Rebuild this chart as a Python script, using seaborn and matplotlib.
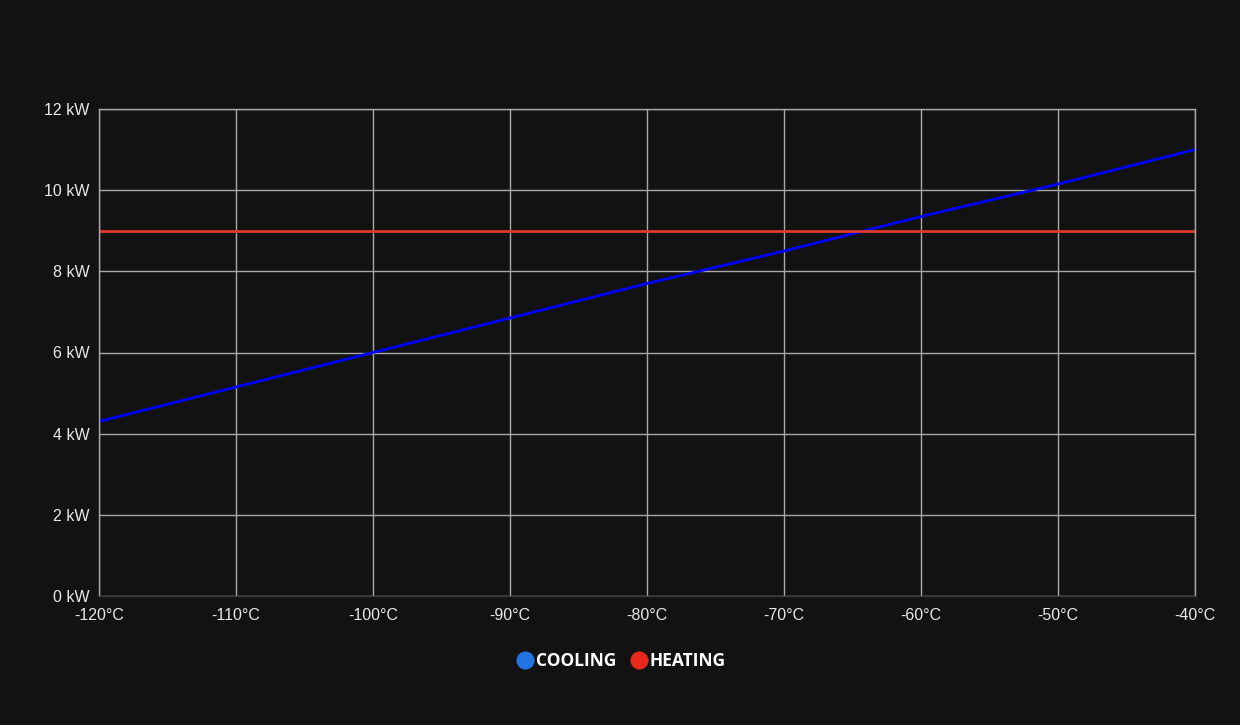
import numpy as np
import pandas as pd
import seaborn as sns
import matplotlib.pyplot as plt
from matplotlib.lines import Line2D

# values
temps = [-120, -110, -100, -90, -80, -70, -60, -50, -40]
cooling_kw = [4.3, 5.15, 6.0, 6.85, 7.7, 8.5, 9.35, 10.15, 11.0]
heating_kw = [9.0, 9.0, 9.0, 9.0, 9.0, 9.0, 9.0, 9.0, 9.0]
y_ticks = [0, 2, 4, 6, 8, 10, 12]

BG = "#121212"

df = pd.concat([
    pd.DataFrame({"temp": temps, "kw": cooling_kw, "mode": "COOLING"}),
    pd.DataFrame({"temp": temps, "kw": heating_kw, "mode": "HEATING"}),
])

sns.set_style("dark")
plt.rcParams["font.family"] = ["Liberation Sans", "DejaVu Sans"]

fig = plt.figure(figsize=(12.4, 7.25), dpi=100, facecolor=BG)
ax = fig.add_axes([99 / 1240, 129 / 725, 1096 / 1240, 487 / 725])
ax.set_facecolor(BG)

sns.lineplot(
    data=df, x="temp", y="kw", hue="mode",
    palette={"COOLING": "#0000ff", "HEATING": "#e0392e"},
    linewidth=2, legend=False, ax=ax,
)

ax.set_xlim(-120, -40)
ax.set_ylim(0, 12)
ax.set_xticks(temps)
ax.set_xticklabels([f"{t}°C" for t in temps])
ax.set_yticks(y_ticks)
ax.set_yticklabels([f"{v} kW" for v in y_ticks])
ax.set_xlabel("")
ax.set_ylabel("")
ax.grid(True, color="#a8a8a8", linewidth=1)
ax.set_axisbelow(True)
ax.tick_params(length=0, labelsize=11.5, labelcolor="#e8e8e8")
ax.tick_params(axis="x", pad=9)
ax.tick_params(axis="y", pad=7)

for side in ["left", "top", "right"]:
    ax.spines[side].set_visible(True)
    ax.spines[side].set_color("#a8a8a8")
    ax.spines[side].set_linewidth(1)
ax.spines["bottom"].set_visible(True)
ax.spines["bottom"].set_color("#3a3a3a")
ax.spines["bottom"].set_linewidth(1)

handles = [
    Line2D([], [], marker="o", linestyle="", markersize=12, color="#2374e1"),
    Line2D([], [], marker="o", linestyle="", markersize=12, color="#e8291c"),
]
leg = fig.legend(
    handles, ["COOLING", "HEATING"], loc="center", bbox_to_anchor=(0.5, 1 - 661 / 725),
    ncol=2, frameon=False, handletextpad=0.0, columnspacing=0.7, handlelength=1.2,
    prop={"family": ["Open Sans", "DejaVu Sans"], "weight": "bold", "size": 12.5},
)
for t in leg.get_texts():
    t.set_color("white")

fig.savefig("out.png", dpi=100, facecolor=BG)
